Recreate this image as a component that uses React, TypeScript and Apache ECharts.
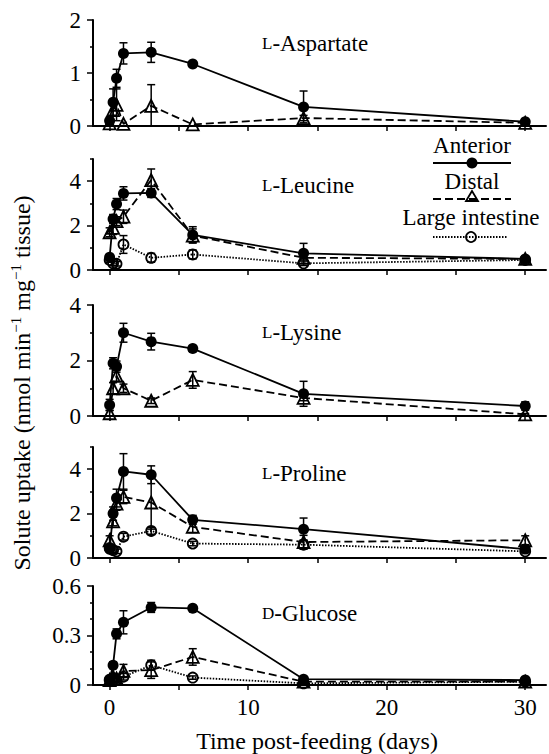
import { useEffect, useRef } from "react";
import * as echarts from "echarts";

// ---- data ----
const days = [0, 0.25, 0.5, 1, 3, 6, 14, 30];

const panelPrefixes = ["L", "L", "L", "L", "D"];
const panelNames = ["-Aspartate", "-Leucine", "-Lysine", "-Proline", "-Glucose"];

const yMax = [2, 5, 4, 5, 0.6];
const yMajorTicks = [[0, 1, 2], [0, 2, 4], [0, 2, 4], [0, 2, 4], [0, 0.3, 0.6]];
const yMinorTicks = [[0.5, 1.5], [1, 3, 5], [1, 3], [1, 3, 5], [0.1, 0.2, 0.4, 0.5]];
const xTickValues = [0, 5, 10, 15, 20, 25, 30];
const xLabelValues = [0, 10, 20, 30];

// L-Aspartate
const antAsp = [0.1, 0.45, 0.9, 1.37, 1.39, 1.17, 0.36, 0.08];
const antAspErr = [0, 0.25, 0.17, 0.2, 0.19, 0, 0.3, 0.03];
const disAsp = [0.05, 0.3, 0.4, 0.04, 0.38, 0.03, 0.15, 0.06];
const disAspErr = [0, 0.1, 0.3, 0, 0.4, 0, 0.05, 0];

// L-Leucine
const antLeu = [0.57, 2.3, 2.97, 3.45, 3.47, 1.58, 0.75, 0.5];
const antLeuErr = [0.1, 0.2, 0.25, 0.3, 0.2, 0.37, 0.45, 0.1];
const disLeu = [1.7, 1.9, 2.2, 2.4, 4.05, 1.55, 0.55, 0.5];
const disLeuErr = [0.2, 0.3, 0.2, 0.3, 0.5, 0.3, 0.1, 0.05];
const liLeu = [0.45, 0.3, 0.28, 1.15, 0.55, 0.7, 0.3, 0.45];
const liLeuErr = [0.1, 0.1, 0.1, 0.4, 0.2, 0.2, 0.1, 0.05];

// L-Lysine
const antLys = [0.4, 1.9, 1.78, 3.0, 2.68, 2.43, 0.8, 0.36];
const antLysErr = [0.2, 0.2, 0.2, 0.34, 0.3, 0.1, 0.45, 0.15];
const disLys = [0.1, 1.0, 1.45, 1.0, 0.55, 1.3, 0.65, 0.06];
const disLysErr = [0.1, 0.2, 0.2, 0.15, 0.1, 0.3, 0.1, 0.03];

// L-Proline
const antPro = [0.4, 2.0, 2.7, 3.9, 3.75, 1.72, 1.3, 0.4];
const antProErr = [0.1, 0.3, 0.4, 0.8, 0.4, 0.2, 0.5, 0.1];
const disPro = [0.8, 1.65, 2.45, 2.75, 2.5, 1.4, 0.72, 0.8];
const disProErr = [0.2, 0.2, 0.3, 0.3, 1.2, 0.25, 0.3, 0.2];
const liPro = [0.45, 0.35, 0.3, 0.96, 1.22, 0.65, 0.6, 0.3];
const liProErr = [0.1, 0.1, 0.1, 0.15, 0.15, 0.1, 0.2, 0.05];

// D-Glucose
const antGlu = [0.035, 0.12, 0.31, 0.38, 0.47, 0.465, 0.035, 0.03];
const antGluErr = [0.01, 0.02, 0.03, 0.07, 0.03, 0, 0.01, 0.01];
const disGlu = [0.03, 0.05, 0.04, 0.085, 0.09, 0.17, 0.02, 0.02];
const disGluErr = [0.01, 0.02, 0.02, 0.04, 0.05, 0.05, 0.01, 0.01];
const liGlu = [0.03, 0.03, 0.03, 0.05, 0.12, 0.045, 0.01, 0.02];
const liGluErr = [0.01, 0.01, 0.01, 0.02, 0.03, 0.01, 0.005, 0.005];

const anteriorData = [antAsp, antLeu, antLys, antPro, antGlu];
const anteriorErr = [antAspErr, antLeuErr, antLysErr, antProErr, antGluErr];
const distalData = [disAsp, disLeu, disLys, disPro, disGlu];
const distalErr = [disAspErr, disLeuErr, disLysErr, disProErr, disGluErr];
const liData = [null, liLeu, null, liPro, liGlu];
const liErr = [null, liLeuErr, null, liProErr, liGluErr];

const legendNames = ["Anterior", "Distal", "Large intestine"];
const xTitle = "Time post-feeding (days)";

// ---- layout ----
const FONT = "Liberation Serif, Times New Roman, serif";
const FS = 23;
const gridTops = [20, 159, 305, 447, 586];
const gridHeights = [106, 111, 111, 111, 99];
const labelYs = [43, 185, 332, 473, 613];

export default function App() {
  const ref = useRef<HTMLDivElement>(null);

  useEffect(() => {
    document.body.style.margin = "0";
    if (!ref.current) return;
    const chart = echarts.init(ref.current, undefined, { renderer: "svg" });

    const grids: any[] = [];
    const xAxes: any[] = [];
    const yAxes: any[] = [];
    const series: any[] = [];

    const errRender = (params: any, api: any) => {
      const x = api.value(0);
      const y = api.value(1);
      const e = api.value(2);
      if (!e) return { type: "group", children: [] };
      const top = api.coord([x, y + e]);
      const bot = api.coord([x, Math.max(0, y - e)]);
      const cw = 4;
      const st = { stroke: "#000", lineWidth: 1.5 };
      return {
        type: "group",
        children: [
          { type: "line", shape: { x1: top[0], y1: top[1], x2: bot[0], y2: bot[1] }, style: st },
          { type: "line", shape: { x1: top[0] - cw, y1: top[1], x2: top[0] + cw, y2: top[1] }, style: st },
          { type: "line", shape: { x1: bot[0] - cw, y1: bot[1], x2: bot[0] + cw, y2: bot[1] }, style: st },
        ],
      };
    };

    const addSeries = (
      i: number,
      name: string,
      vals: number[],
      errs: number[],
      kind: "ant" | "dis" | "li"
    ) => {
      const lineStyle: any = { color: "#000", width: 1.8 };
      let symbol = "circle";
      let symbolSize = 11;
      let itemStyle: any = { color: "#000" };
      if (kind === "dis") {
        lineStyle.type = [8, 4];
        symbol = "triangle";
        symbolSize = 12;
        itemStyle = { color: "transparent", borderColor: "#000", borderWidth: 1.8 };
      } else if (kind === "li") {
        lineStyle.type = [1.5, 1.5];
        symbolSize = 10;
        itemStyle = { color: "transparent", borderColor: "#000", borderWidth: 1.8 };
      }
      series.push({
        type: "custom",
        name: name + " error",
        xAxisIndex: i,
        yAxisIndex: 2 * i,
        renderItem: errRender,
        encode: { x: 0, y: 1 },
        data: days.map((d, k) => [d, vals[k], errs[k]]),
        z: 3,
        silent: true,
      });
      series.push({
        type: "line",
        name,
        xAxisIndex: i,
        yAxisIndex: 2 * i,
        data: days.map((d, k) => [d, vals[k]]),
        symbol,
        symbolSize,
        showAllSymbol: true,
        lineStyle,
        itemStyle,
        z: 4,
      });
    };

    for (let i = 0; i < 5; i++) {
      grids.push({ left: 93, right: 3, top: gridTops[i], height: gridHeights[i] });
      const isLast = i === 4;
      xAxes.push({
        type: "value",
        gridIndex: i,
        position: "bottom",
        min: -1.2,
        max: 31.5,
        axisLine: { show: true, onZero: false, lineStyle: { color: "#000", width: 2 } },
        axisTick: {
          show: true,
          inside: false,
          length: 5,
          customValues: xTickValues,
          lineStyle: { color: "#000", width: 1.5 },
        },
        axisLabel: {
          show: isLast,
          customValues: xLabelValues,
          color: "#000",
          fontSize: FS,
          fontFamily: FONT,
          margin: 11,
        },
        splitLine: { show: false },
      });
      yAxes.push({
        type: "value",
        gridIndex: i,
        position: "left",
        min: 0,
        max: yMax[i],
        axisLine: { show: true, onZero: false, lineStyle: { color: "#000", width: 2 } },
        axisTick: {
          show: true,
          length: 6,
          customValues: yMajorTicks[i],
          lineStyle: { color: "#000", width: 1.5 },
        },
        axisLabel: {
          show: true,
          customValues: yMajorTicks[i],
          color: "#000",
          fontSize: FS,
          fontFamily: FONT,
          margin: 12,
        },
        splitLine: { show: false },
      });
      yAxes.push({
        type: "value",
        gridIndex: i,
        position: "left",
        min: 0,
        max: yMax[i],
        axisLine: { show: false, onZero: false },
        axisTick: {
          show: true,
          length: 3,
          customValues: yMinorTicks[i],
          lineStyle: { color: "#000", width: 1.5 },
        },
        axisLabel: { show: false },
        splitLine: { show: false },
      });

      const li = liData[i];
      const liE = liErr[i];
      if (li && liE) addSeries(i, legendNames[2], li, liE, "li");
      addSeries(i, legendNames[1], distalData[i], distalErr[i], "dis");
      addSeries(i, legendNames[0], anteriorData[i], anteriorErr[i], "ant");
    }

    const graphics: any[] = [];
    for (let i = 0; i < 5; i++) {
      graphics.push({
        type: "text",
        x: 262,
        y: labelYs[i],
        style: {
          text: `{sc|${panelPrefixes[i]}}{n|${panelNames[i]}}`,
          verticalAlign: "middle",
          align: "left",
          rich: {
            sc: { fontSize: 17, fontFamily: FONT, fill: "#000" },
            n: { fontSize: FS, fontFamily: FONT, fill: "#000" },
          },
        },
      });
    }
    // y-axis title
    graphics.push({
      type: "text",
      x: 22,
      y: 383,
      rotation: Math.PI / 2,
      style: {
        text: "{n|Solute uptake (nmol min}{s|−1}{n| mg}{s|−1}{n| tissue)}",
        align: "center",
        verticalAlign: "middle",
        rich: {
          n: { fontSize: 24, fontFamily: FONT, fill: "#000", lineHeight: 28 },
          s: { fontSize: 15, fontFamily: FONT, fill: "#000", verticalAlign: "top" },
        },
      },
    });
    // x-axis title
    graphics.push({
      type: "text",
      x: 317,
      y: 741,
      style: {
        text: xTitle,
        align: "center",
        verticalAlign: "middle",
        fontSize: 24,
        fontFamily: FONT,
        fill: "#000",
      },
    });
    // legend
    const lgX1 = 433;
    const lgX2 = 511;
    const lgC = 472;
    graphics.push(
      {
        type: "text",
        x: lgC,
        y: 145,
        style: { text: legendNames[0], align: "center", verticalAlign: "middle", fontSize: FS, fontFamily: FONT, fill: "#000" },
      },
      {
        type: "line",
        shape: { x1: lgX1, y1: 163, x2: lgX2, y2: 163 },
        style: { stroke: "#000", lineWidth: 1.8 },
      },
      { type: "circle", shape: { cx: lgC, cy: 163, r: 5.5 }, style: { fill: "#000" } },
      {
        type: "text",
        x: lgC,
        y: 181,
        style: { text: legendNames[1], align: "center", verticalAlign: "middle", fontSize: FS, fontFamily: FONT, fill: "#000" },
      },
      {
        type: "line",
        shape: { x1: lgX1, y1: 199, x2: lgX2, y2: 199 },
        style: { stroke: "#000", lineWidth: 1.8, lineDash: [8, 4] },
      },
      {
        type: "polygon",
        shape: { points: [[lgC, 191], [lgC - 6, 201], [lgC + 6, 201]] },
        style: { fill: "none", stroke: "#000", lineWidth: 1.8 },
      },
      {
        type: "text",
        x: lgC - 1,
        y: 217,
        style: { text: legendNames[2], align: "center", verticalAlign: "middle", fontSize: FS, fontFamily: FONT, fill: "#000" },
      },
      {
        type: "line",
        shape: { x1: lgX1, y1: 237, x2: 508, y2: 237 },
        style: { stroke: "#000", lineWidth: 1.8, lineDash: [1.5, 1.5] },
      },
      {
        type: "circle",
        shape: { cx: 471, cy: 237, r: 5 },
        style: { fill: "none", stroke: "#000", lineWidth: 1.8 },
      }
    );

    chart.setOption({
      animation: false,
      backgroundColor: "#fff",
      textStyle: { fontFamily: FONT, color: "#000" },
      grid: grids,
      xAxis: xAxes,
      yAxis: yAxes,
      series,
      graphic: graphics,
    });

    return () => chart.dispose();
  }, []);

  return (
    <div
      ref={ref}
      style={{ width: 549, height: 754, position: "fixed", left: 0, top: 0, background: "#fff" }}
    />
  );
}
